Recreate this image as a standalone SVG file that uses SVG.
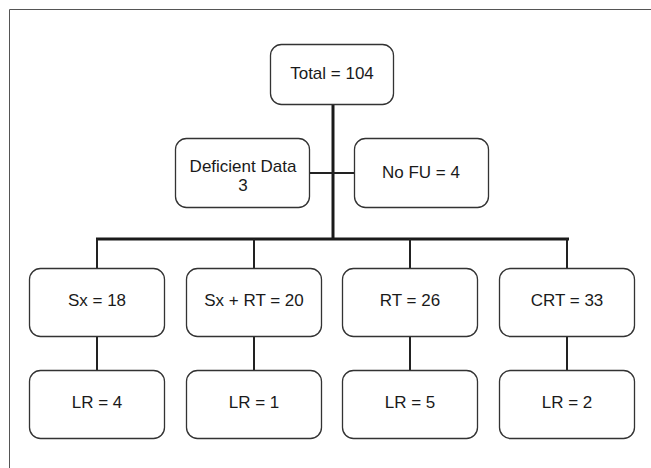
<svg xmlns="http://www.w3.org/2000/svg" width="651" height="468" viewBox="0 0 651 468">
<style>
.box{fill:#fff;stroke:#333;stroke-width:1.3}
.t{font-family:"Liberation Sans",Arial,sans-serif;font-size:17px;fill:#1a1a1a;text-anchor:middle}
.thick{stroke:#1a1a1a;stroke-width:3;fill:none}
.thin{stroke:#222;stroke-width:2;fill:none}
.frame{stroke:#555;stroke-width:1;fill:none}
</style>
<rect width="651" height="468" fill="#fff"/>
<path class="frame" d="M9.5,468 V9.5 H651"/>
<g id="connectors">
<path class="thick" d="M333,104 V239"/>
<path class="thin" d="M310,173 H354"/>
<path class="thick" d="M96,239 H569"/>
<path class="thin" d="M97,239 V268 M254,239 V268 M410,239 V268 M567,239 V268"/>
<path class="thin" d="M97,336 V370 M254,336 V370 M410,336 V370 M567,336 V370"/>
</g>
<g id="total"><rect class="box" x="270.5" y="44.5" width="123" height="60" rx="11"/><text class="t" x="332" y="79">Total = 104</text></g>
<g id="deficient"><rect class="box" x="175.5" y="138.5" width="134" height="69" rx="11"/><text class="t" x="243" y="172">Deficient Data</text><text class="t" x="243" y="191">3</text></g>
<g id="nofu"><rect class="box" x="354.5" y="138.5" width="134" height="69" rx="11"/><text class="t" x="421" y="178">No FU = 4</text></g>
<g id="sx"><rect class="box" x="29.5" y="268.5" width="135" height="68" rx="11"/><text class="t" x="97" y="306">Sx = 18</text></g>
<g id="sxrt"><rect class="box" x="186.5" y="268.5" width="135" height="68" rx="11"/><text class="t" x="254" y="306">Sx + RT = 20</text></g>
<g id="rt"><rect class="box" x="342.5" y="268.5" width="135" height="68" rx="11"/><text class="t" x="410" y="306">RT = 26</text></g>
<g id="crt"><rect class="box" x="499.5" y="268.5" width="135" height="68" rx="11"/><text class="t" x="567" y="306">CRT = 33</text></g>
<g id="lr1"><rect class="box" x="29.5" y="370.5" width="135" height="68" rx="11"/><text class="t" x="97" y="408">LR = 4</text></g>
<g id="lr2"><rect class="box" x="186.5" y="370.5" width="135" height="68" rx="11"/><text class="t" x="254" y="408">LR = 1</text></g>
<g id="lr3"><rect class="box" x="342.5" y="370.5" width="135" height="68" rx="11"/><text class="t" x="410" y="408">LR = 5</text></g>
<g id="lr4"><rect class="box" x="499.5" y="370.5" width="135" height="68" rx="11"/><text class="t" x="567" y="408">LR = 2</text></g>
</svg>
